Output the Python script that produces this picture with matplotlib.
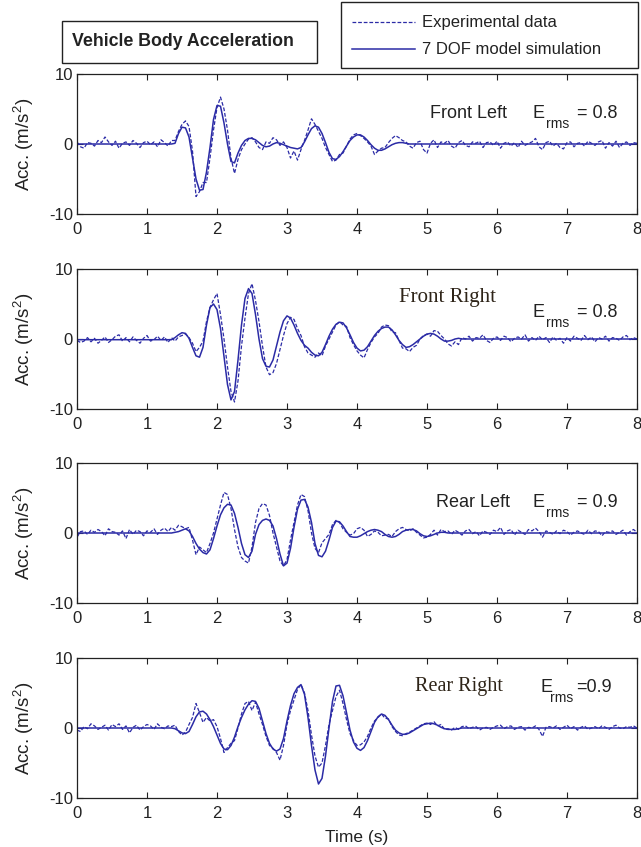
import numpy as np
import matplotlib
matplotlib.use('Agg')
import matplotlib.pyplot as plt
from matplotlib.patches import Rectangle
from matplotlib.lines import Line2D

plt.rcParams.update({
    'font.family': 'Liberation Sans',
    'mathtext.fontset': 'custom',
    'mathtext.rm': 'Liberation Sans',
    'mathtext.it': 'Liberation Sans:italic',
    'axes.unicode_minus': False,
    'font.size': 11,
})

# experimental data, sampled every 0.05 s from t = 0 to 8 s
exp_fl = [0.3, -0.4, -0.6, 0.2, 0.1, -0.3, 0.5, 0.2, 1.0, 0.3, -0.2, 0.4, -0.6, 0.1, 0.3, -0.2, 0.5, 0.1, -0.5, 0.2,
          0.4, -0.1, 0.3, -0.4, 0.6, 0.2, -0.3, 0.5,
          0.5, 1.8, 2.8, 3.3, 2.5, -1.0, -7.5, -6.8, -5.5, -5.5, -2.0, 2.0, 5.2, 6.7, 5.0, 2.0, -2.0, -4.2, -2.2, -0.8,
          0.0, 0.7, 0.9, 0.3, -0.5, -0.8, 0.3, 0.1, 0.9, 0.6, -0.2, 0.3, -0.5, -2.0, -1.0, -2.3, -0.8, 0.5, 2.0, 3.6,
          2.8, 1.8, 0.8, -0.5, -1.5, -2.5, -2.3, -1.5, -1.3, -0.3, 0.7, 1.3, 1.5, 1.2, 0.8, 0.3, -0.3, -1.5, -1.0, -0.6,
          -0.5, 0.2, 0.8, 1.2, 0.9, 0.5, 0.3, -0.3, -0.6, 0.2, 0.4, -0.8, -1.3, 0.1, 0.6, -0.5, 0.3, 0.1, 0.5, -0.3,
          -0.6, 0.2, 0.5, -0.2, -0.4, 0.3, 0.1, 0.4, -0.5, 0.2, 0.3, -0.2, 0.4, -0.6, 0.1, 0.3, -0.3, 0.2, -0.5, 0.4,
          -0.2, 0.1, 0.3, 0.8, -0.4, -0.8, 0.2, 0.4, -0.3, 0.1, -0.5, -0.7, 0.2, 0.3, -0.4, 0.1, 0.2, -0.3, 0.4, 0.1,
          -0.2, 0.3, 0.5, -0.6, 0.2, -0.3, 0.4, -0.5, 0.1, 0.3, -0.2, 0.2, 0.1]
exp_fr = [-0.2, -0.5, -0.3, 0.2, -0.4, 0.1, -0.6, -0.2, 0.3, -0.5, -0.1, 0.4, 0.6, -0.3, 0.2, -0.4, 0.3, -0.2, -0.6,
          0.1, 0.5, -0.3, -0.1, 0.4, -0.2, 0.3, -0.5, 0.2,
          -0.3, 0.3, 0.5, 0.7, 0.2, -0.6, -1.8, -1.2, -0.3, 2.5, 4.5, 5.6, 6.5, 3.5, 0.0, -4.0, -7.5, -9.0, -6.0, -1.0,
          3.0, 6.5, 7.9, 5.5, 2.5, -1.0, -4.0, -5.1, -4.8, -3.5, -1.5, 0.5, 2.2, 3.1, 2.8, 1.5, 0.5, -1.1, -2.0, -2.3,
          -2.6, -2.0, -2.4, -1.0, 0.0, 1.0, 2.0, 2.5, 2.0, 1.8, 0.2, -0.8, -1.7, -2.3, -2.7, -1.5, -0.5, 0.3, 0.8, 1.7,
          2.0, 1.9, 1.0, 0.9, -0.2, -1.3, -1.4, -1.8, -1.2, -0.9, 0.0, 0.5, 0.7, 0.4, 1.2, 1.1, 0.5, 0.0, -0.7, -1.0,
          -0.4, -0.8, 0.2, 0.0, 0.4, -0.3, 0.2, 0.1, 0.6, -0.2, -0.5, 0.1, 0.3, -0.2, 0.4, 0.2, -0.4, 0.1, 0.3, 0.0,
          0.6, -0.3, 0.2, -0.2, 0.4, -0.1, 0.2, -0.5, 0.3, -0.2, 0.1, -0.6, 0.2, -0.3, 0.4, 0.1, -0.2, 0.5, -0.1, 0.3,
          -0.4, 0.2, 0.0, 0.4, -0.3, 0.2, 0.1, -0.2, 0.3, 0.5, -0.1, 0.2, 0.0]
exp_rl = [-0.6, 0.2, 0.3, -0.2, 0.4, 0.1, 0.5, 0.2, -0.4, 0.6, 0.2, 0.1, -0.3, 0.3, -0.8, 0.5, -0.2, 0.4, 0.2, -0.4,
          0.3, 0.1, 0.6, -0.2, 0.4, 0.7, 0.2, 0.8,
          0.4, 1.1, 0.9, 0.6, 0.8, -1.0, -3.1, -2.0, -2.4, -2.8, -1.5, 0.0, 2.0, 4.0, 5.8, 5.5, 3.5, 0.5, -2.0, -3.5,
          -4.0, -4.3, -2.0, 1.5, 3.5, 4.2, 4.0, 2.5, 0.0, -2.0, -4.0, -4.7, -3.8, -1.0, 1.5, 4.0, 5.5, 5.2, 3.2, 0.0,
          -2.2, -2.8, -1.4, -0.8, -0.2, 1.2, 1.8, 1.5, 0.6, 0.1, -0.3, -0.1, 0.6, 0.8, 0.4, -0.5, -0.2, 0.3, 0.1, -0.4,
          -0.3, -0.2, -0.5, 0.2, 0.6, 0.8, 0.5, 0.3, 0.6, 0.1, -0.3, -0.7, -0.6, -0.2, 0.4, -0.3, 0.5, 0.2, 0.3, -0.2,
          0.4, 0.1, -0.3, 0.3, 0.5, -0.1, 0.2, -0.4, 0.3, 0.1, -0.2, 0.4, 0.2, 0.8, -0.2, 0.3, 0.5, -0.3, 0.4, 0.1,
          -0.2, 0.5, 0.3, 0.7, 0.2, -0.6, 0.3, 0.1, -0.2, 0.3, -0.1, 0.4, 0.2, -0.3, 0.1, 0.3, 0.0, -0.2, 0.4, -0.1,
          0.3, 0.2, -0.4, 0.2, 0.1, 0.3, -0.2, 0.1, 0.4, -0.3, 0.2, 0.5, 0.1]
exp_rr = [-0.3, -0.5, 0.2, -0.1, 0.6, 0.3, -0.2, 0.1, 0.4, -0.3, 0.5, 0.2, 0.6, -0.2, 0.3, -0.7, 0.1, 0.4, -0.3, 0.2,
          0.5, 0.3, -0.2, 0.6, 0.1, -0.1, 0.3, 0.2,
          0.4, -0.5, -1.0, -0.6, 0.5, 1.5, 3.5, 2.2, 0.8, 1.5, 1.0, 1.2, 0.2, -1.5, -3.5, -2.8, -2.2, -1.8, 0.0, 2.0,
          3.5, 3.8, 2.5, 3.7, 2.0, 0.5, -1.2, -2.5, -2.9, -3.5, -4.6, -2.5, 0.5, 2.5, 4.0, 5.5, 6.2, 5.0, 2.5, -1.0,
          -4.0, -5.6, -5.0, -2.5, 0.5, 2.5, 4.5, 5.4, 3.5, 1.2, -0.8, -1.8, -2.5, -2.4, -2.0, -1.2, 0.0, 1.0, 1.5, 2.0,
          1.4, 1.3, 0.2, -0.5, -1.0, -1.1, -0.8, -0.6, -0.3, 0.0, 0.3, 0.6, 0.7, 0.5, 0.9, 0.3, 0.5, -0.2, -0.1, -0.3,
          0.1, -0.2, 0.2, 0.3, -0.1, 0.1, 0.2, -0.3, 0.0, 0.1, -0.2, 0.1, 0.3, 0.4, -0.1, 0.2, 0.3, -0.2, 0.1, 0.2,
          -0.3, 0.1, 0.0, 0.3, -0.2, -1.2, 0.1, 0.2, 0.0, 0.3, -0.2, 0.1, 0.4, -0.1, 0.2, -0.3, 0.1, 0.3, -0.2, 0.0,
          0.2, -0.1, 0.3, 0.1, -0.2, 0.2, 0.4, 0.0, -0.1, 0.2, 0.1, 0.3, 0.0]

# 7 DOF simulation, sampled every 0.05 s from t = 1.35 s (flat before/after)
sim_fl = [0.0, 0.1, 1.5, 2.4, 2.3, 1.0, -2.0, -5.0, -6.6, -6.5, -4.0, -0.5, 3.5, 5.5, 5.4, 3.0, 0.0, -2.5, -2.7,
          -1.3, -0.2, 0.5, 0.8, 0.8, 0.6, 0.2, -0.2, -0.4, -0.3, 0.0, 0.2, 0.1, -0.1, -0.3, -0.5, -0.6, -0.7, -0.5,
          0.3, 1.3, 2.2, 2.6, 2.4, 1.5, 0.2, -1.2, -2.1, -2.2, -1.8, -1.1, -0.3, 0.5, 1.0, 1.3, 1.3, 1.0, 0.5, -0.1,
          -0.6, -0.9, -0.9, -0.7, -0.4, -0.1, 0.1, 0.2, 0.2, 0.1, 0.0]
sim_fr = [-0.1, 0.2, 0.6, 0.9, 0.8, 0.1, -1.2, -2.4, -2.6, -1.2, 2.0, 4.5, 5.0, 4.2, 1.5, -2.5, -6.5, -8.7, -7.5,
          -3.0, 2.0, 5.8, 7.2, 6.5, 3.5, 0.0, -2.8, -3.9, -4.0, -3.0, -1.0, 1.0, 2.6, 3.3, 3.0, 2.0, 0.8, -0.2, -0.9,
          -1.3, -1.9, -2.3, -2.4, -1.9, -0.8, 0.4, 1.4, 2.1, 2.4, 2.3, 1.6, 0.6, -0.5, -1.3, -1.7, -1.6, -1.1, -0.3,
          0.5, 1.1, 1.5, 1.7, 1.7, 1.3, 0.6, -0.2, -0.8, -1.2, -1.1, -0.8, -0.4, 0.0, 0.4, 0.7, 0.8, 0.7, 0.4, 0.0,
          -0.3, -0.3, -0.2, 0.0, 0.1, 0.0]
sim_rl = [0.0, 0.1, 0.2, 0.4, 0.6, 0.3, -0.5, -1.5, -2.3, -2.8, -3.0, -2.4, -0.8, 1.0, 2.6, 3.6, 4.1, 4.0, 2.8, 0.8,
          -1.5, -3.1, -3.5, -2.6, -0.2, 1.2, 1.8, 2.0, 1.8, 1.0, -0.8, -3.0, -4.7, -4.3, -2.2, 0.8, 3.4, 4.7, 4.8,
          3.7, 1.5, -1.5, -3.2, -3.4, -2.6, -1.0, 0.8, 1.7, 1.6, 1.0, 0.2, -0.5, -0.6, -0.6, -0.4, -0.1, 0.2, 0.4,
          0.5, 0.4, 0.2, -0.2, -0.5, -0.6, -0.5, -0.2, 0.2, 0.4, 0.5, 0.5, 0.3, -0.1, -0.4, -0.5, -0.4, -0.2, 0.0,
          0.1, 0.1, 0.0]
sim_rr = [0.0, -0.1, -0.4, -0.7, -0.8, -0.5, 0.5, 1.6, 2.3, 2.4, 2.0, 1.2, 0.2, -1.0, -2.2, -3.0, -3.1, -2.5, -1.3,
          0.2, 1.5, 2.6, 3.4, 3.9, 3.8, 2.8, 1.0, -0.8, -2.2, -3.0, -3.3, -3.0, -1.5, 1.0, 3.2, 4.9, 5.8, 6.2, 4.8,
          1.5, -2.5, -6.0, -8.0, -7.2, -4.0, 0.0, 3.8, 6.0, 6.1, 4.6, 2.2, -0.3, -2.0, -2.9, -3.2, -2.8, -1.8, -0.5,
          0.8, 1.6, 2.0, 1.8, 1.2, 0.4, -0.3, -0.7, -0.9, -0.9, -0.7, -0.4, -0.1, 0.2, 0.5, 0.6, 0.7, 0.6, 0.4, 0.1,
          -0.1, -0.2, -0.2, -0.2, -0.1, 0.0]

corners = ['Front Left', 'Front Right', 'Rear Left', 'Rear Right']
erms = ['= 0.8', '= 0.8', '= 0.9', '=0.9']

exps = [exp_fl, exp_fr, exp_rl, exp_rr]
sims = [sim_fl, sim_fr, sim_rl, sim_rr]

blue = '#2b2ba6'
ink = '#222222'
W, H = 641, 847
fig = plt.figure(figsize=(W / 100, H / 100), dpi=100)

panel_top = [74, 269, 463, 658]
axes = []
for k in range(4):
    ax = fig.add_axes([77 / W, 1 - (panel_top[k] + 140) / H, 560 / W, 140 / H])
    axes.append(ax)

    e = np.array(exps[k])
    te = np.arange(len(e)) * 0.05
    s = np.array(sims[k])
    ts = 1.35 + np.arange(len(s)) * 0.05
    ts = np.concatenate([[0.0], ts, [8.0]])
    s = np.concatenate([[s[0]], s, [s[-1]]])

    ax.plot(te, e, ls=(0, (3, 1.5)), color=blue, lw=0.9)
    ax.plot(ts, s, '-', color=blue, lw=1.1)

    ax.set_xlim(0, 8)
    ax.set_ylim(-10, 10)
    ax.set_xticks(range(9))
    ax.set_yticks([-10, 0, 10])
    ax.tick_params(direction='in', top=True, right=True, length=4, labelsize=12, color=ink, labelcolor=ink)
    ax.tick_params(axis='x', pad=6)
    ax.tick_params(axis='y', pad=3)
    for sp in ax.spines.values():
        sp.set_color(ink)
        sp.set_linewidth(0.9)
    ax.set_ylabel('Acc. (m/s$^2$)', fontsize=13.5, color=ink)
    ax.yaxis.set_label_coords(-0.074, 0.5)

# corner labels: (x, y) of name, and of the E_rms group
name_pos = [(5.04, 4.3), (4.6, 5.9), (5.13, 4.4), (4.83, 5.9)]
name_font = ['Liberation Sans', 'Liberation Serif', 'Liberation Sans', 'Liberation Serif']
name_size = [13, 15, 13, 14.5]
name_col = [ink, '#2e2418', ink, '#2e2418']
e_pos = [(6.5, 4.3), (6.5, 3.8), (6.5, 4.4), (6.62, 5.8)]
sub_dx = [0.2, 0.2, 0.2, 0.14]
eq_x = [7.14, 7.14, 7.14, 7.13]

for k, ax in enumerate(axes):
    ax.text(*name_pos[k], corners[k], fontsize=name_size[k], va='center', color=name_col[k],
            family=name_font[k])
    ex, ey = e_pos[k]
    ax.text(ex, ey, 'E', fontsize=13, va='center', color=ink)
    ax.text(ex + sub_dx[k], ey - 1.5, 'rms', fontsize=10, va='center', color=ink)
    ax.text(eq_x[k], ey, erms[k], fontsize=13, va='center', color=ink)

axes[3].set_xlabel('Time (s)', fontsize=12.5, color=ink, labelpad=6)

# title box
fig.add_artist(Rectangle((61.7 / W, 1 - 63 / H), 255 / W, 42 / H, transform=fig.transFigure,
                         fill=False, ec=ink, lw=1.0))
fig.text(71.7 / W, 1 - 42 / H, 'Vehicle Body Acceleration', fontsize=12.8, fontweight='bold',
         va='center', color=ink)

# legend box
fig.add_artist(Rectangle((341 / W, 1 - 68 / H), 297 / W, 66 / H, transform=fig.transFigure,
                         fill=False, ec=ink, lw=1.0))
fig.add_artist(Line2D([352 / W, 415 / W], [1 - 22 / H, 1 - 22 / H], transform=fig.transFigure,
                      ls=(0, (3, 1.5)), color=blue, lw=0.9))
fig.add_artist(Line2D([352 / W, 415 / W], [1 - 49 / H, 1 - 49 / H], transform=fig.transFigure,
                      ls='-', color=blue, lw=1.1))
fig.text(422 / W, 1 - 22 / H, 'Experimental data', fontsize=12, va='center', color=ink)
fig.text(422 / W, 1 - 49 / H, '7 DOF model simulation', fontsize=12, va='center', color=ink)

fig.savefig('out.png', dpi=100)
